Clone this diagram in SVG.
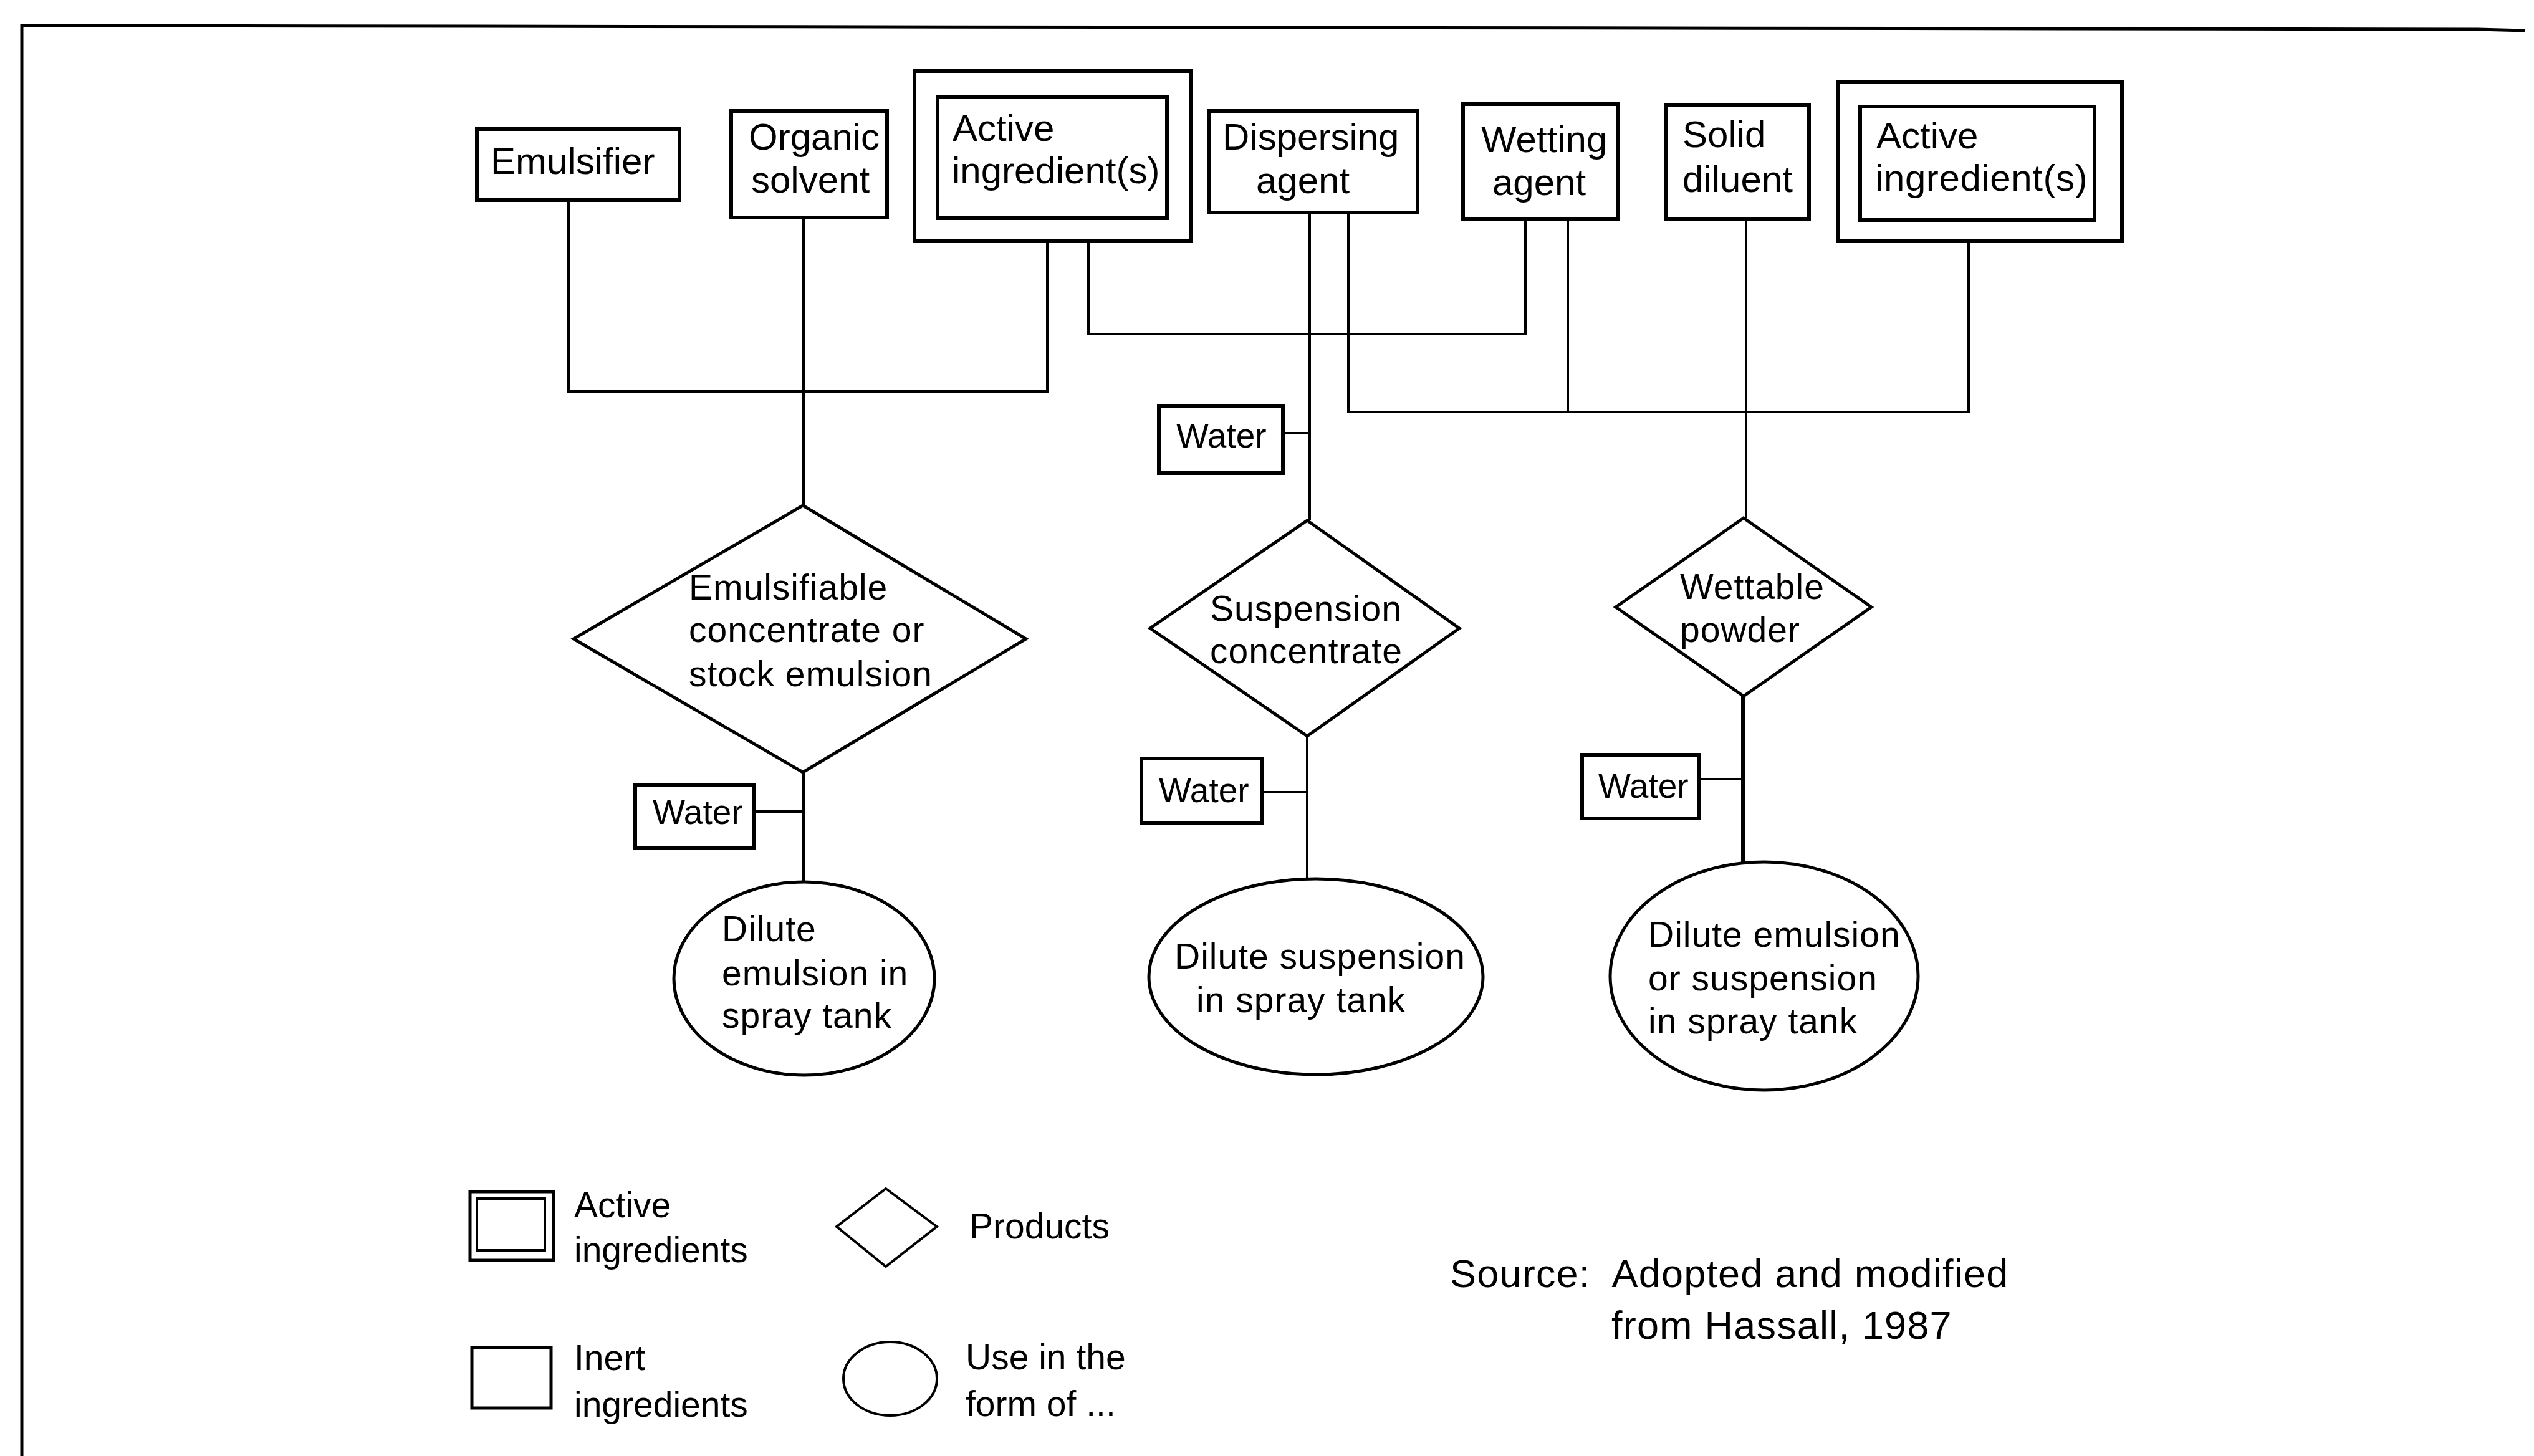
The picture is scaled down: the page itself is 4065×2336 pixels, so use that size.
<svg xmlns="http://www.w3.org/2000/svg" width="4065" height="2336" viewBox="0 0 4065 2336">
<style>
  .bg { fill: #ffffff; }
  .box { fill: #ffffff; stroke: #000; stroke-width: 6; }
  .shape { fill: #ffffff; stroke: #000; stroke-width: 5; }
  .conn { fill: none; stroke: #000; stroke-width: 4; }
  .frame { fill: none; stroke: #000; stroke-width: 5; }
  text { font-family: "Liberation Sans", Arial, sans-serif; fill: #000; }
  .lbl { font-size: 60px; }
  .wat { font-size: 55px; }
  .prod { font-size: 57px; letter-spacing: 1px; }
  .leg { font-size: 57px; }
  .src { font-size: 63px; letter-spacing: 1.2px; }
</style>
<rect class="bg" x="0" y="0" width="4065" height="2336"/>
<g id="frame">
  <polyline class="frame" points="35,2336 35,41 1400,43 3975,47 4050,49"/>
</g>
<g id="connectors">
  <path class="conn" d="M912,321 V628 H1680 V387"/>
  <path class="conn" d="M1289,349 V811"/>
  <path class="conn" d="M1746,387 V536 H2447 V351"/>
  <path class="conn" d="M2101,341 V835"/>
  <path class="conn" d="M2163,341 V661 H3158 V387"/>
  <path class="conn" d="M2515,351 V661"/>
  <path class="conn" d="M2801,351 V831"/>
  <path class="conn" d="M2058,695 H2101"/>
  <path class="conn" d="M1289,1239 V1415"/>
  <path class="conn" d="M1209,1302 H1289"/>
  <path class="conn" d="M2097,1181 V1410"/>
  <path class="conn" d="M2025,1271 H2097"/>
  <path class="conn" style="stroke-width:6" d="M2796,1117 V1383"/>
  <path class="conn" d="M2725,1250 H2796"/>
</g>
<g id="emulsifier">
  <rect class="box" x="765" y="207" width="325" height="114"/>
  <text class="lbl" x="787" y="279">Emulsifier</text>
</g>
<g id="organic-solvent">
  <rect class="box" x="1173" y="178" width="250" height="171"/>
  <text class="lbl" x="1201" y="240">Organic</text>
  <text class="lbl" x="1205" y="309">solvent</text>
</g>
<g id="active-ingredients-1">
  <rect class="box" x="1467" y="114" width="443" height="273"/>
  <rect class="box" x="1504" y="156" width="368" height="194"/>
  <text class="lbl" x="1528" y="226">Active</text>
  <text class="lbl" x="1527" y="294">ingredient(s)</text>
</g>
<g id="dispersing-agent">
  <rect class="box" x="1940" y="178" width="334" height="163"/>
  <text class="lbl" x="1961" y="240">Dispersing</text>
  <text class="lbl" x="2015" y="310">agent</text>
</g>
<g id="wetting-agent">
  <rect class="box" x="2347" y="167" width="248" height="184"/>
  <text class="lbl" x="2376" y="244">Wetting</text>
  <text class="lbl" x="2394" y="313">agent</text>
</g>
<g id="solid-diluent">
  <rect class="box" x="2673" y="168" width="229" height="183"/>
  <text class="lbl" x="2699" y="236">Solid</text>
  <text class="lbl" x="2699" y="308">diluent</text>
</g>
<g id="active-ingredients-2">
  <rect class="box" x="2948" y="131" width="456" height="256"/>
  <rect class="box" x="2984" y="171" width="376" height="182"/>
  <text class="lbl" x="3010" y="238">Active</text>
  <text class="lbl" x="3008" y="306" style="letter-spacing:0.6px">ingredient(s)</text>
</g>
<g id="water-top">
  <rect class="box" x="1859" y="651" width="199" height="108"/>
  <text class="wat" x="1887" y="718">Water</text>
</g>
<g id="emulsifiable-concentrate">
  <polygon class="shape" points="1288,811 1646,1025 1288,1239 920,1025"/>
  <text class="prod" x="1105" y="962">Emulsifiable</text>
  <text class="prod" x="1105" y="1030">concentrate or</text>
  <text class="prod" x="1105" y="1101">stock emulsion</text>
</g>
<g id="suspension-concentrate">
  <polygon class="shape" points="2097,835 2341,1008 2097,1181 1845,1008"/>
  <text class="prod" x="1941" y="996">Suspension</text>
  <text class="prod" x="1941" y="1064">concentrate</text>
</g>
<g id="wettable-powder">
  <polygon class="shape" points="2797,831 3002,974 2797,1117 2592,974"/>
  <text class="prod" x="2695" y="961">Wettable</text>
  <text class="prod" x="2695" y="1030">powder</text>
</g>
<g id="water-1">
  <rect class="box" x="1019" y="1259" width="190" height="101"/>
  <text class="wat" x="1047" y="1322">Water</text>
</g>
<g id="water-2">
  <rect class="box" x="1831" y="1217" width="194" height="104"/>
  <text class="wat" x="1859" y="1287">Water</text>
</g>
<g id="water-3">
  <rect class="box" x="2538" y="1211" width="187" height="102"/>
  <text class="wat" x="2564" y="1280">Water</text>
</g>
<g id="dilute-emulsion">
  <ellipse class="shape" cx="1290" cy="1570" rx="209" ry="155"/>
  <text class="prod" x="1158" y="1510">Dilute</text>
  <text class="prod" x="1158" y="1581">emulsion in</text>
  <text class="prod" x="1158" y="1649">spray tank</text>
</g>
<g id="dilute-suspension">
  <ellipse class="shape" cx="2111" cy="1567" rx="268" ry="157"/>
  <text class="prod" x="1884" y="1554">Dilute suspension</text>
  <text class="prod" x="1919" y="1624">in spray tank</text>
</g>
<g id="dilute-emulsion-or-suspension">
  <ellipse class="shape" cx="2830" cy="1566" rx="247" ry="183"/>
  <text class="prod" x="2644" y="1519">Dilute emulsion</text>
  <text class="prod" x="2644" y="1589">or suspension</text>
  <text class="prod" x="2644" y="1658">in spray tank</text>
</g>
<g id="legend">
  <rect class="box" style="stroke-width:5" x="754" y="1912" width="134" height="110"/>
  <rect class="box" style="stroke-width:4" x="765" y="1923" width="109" height="83"/>
  <text class="leg" x="921" y="1953">Active</text>
  <text class="leg" x="921" y="2025">ingredients</text>
  <polygon class="shape" style="stroke-width:4" points="1421,1907 1503,1968 1421,2032 1342,1968"/>
  <text class="leg" x="1555" y="1987">Products</text>
  <rect class="box" style="stroke-width:5" x="757" y="2162" width="127" height="97"/>
  <text class="leg" x="921" y="2198">Inert</text>
  <text class="leg" x="921" y="2273">ingredients</text>
  <ellipse class="shape" style="stroke-width:4" cx="1428" cy="2212" rx="75" ry="59"/>
  <text class="leg" x="1549" y="2197">Use in the</text>
  <text class="leg" x="1549" y="2272">form of ...</text>
</g>
<g id="source">
  <text class="src" x="2326" y="2065" xml:space="preserve">Source:  Adopted and modified</text>
  <text class="src" x="2585" y="2148">from Hassall, 1987</text>
</g>
</svg>
